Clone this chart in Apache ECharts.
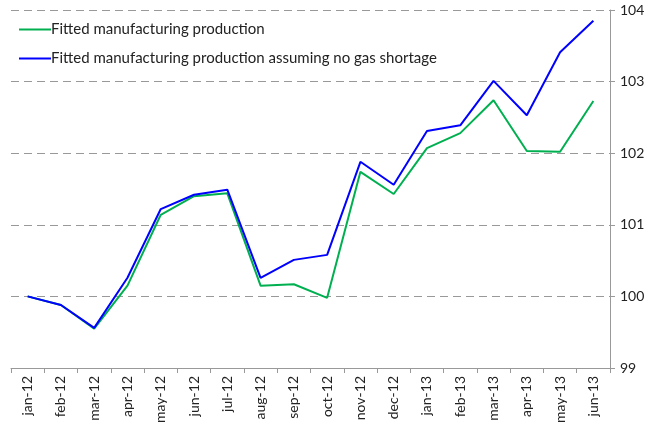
<!DOCTYPE html>
<html>
<head>
<meta charset="utf-8">
<script src="https://cdn.jsdelivr.net/npm/echarts@6/dist/echarts.min.js"></script>
<style>
  html, body { margin: 0; padding: 0; background: #fff; }
  #chart { width: 650px; height: 429px; }
</style>
</head>
<body>
<div id="chart"></div>
<script>
var months = ['jan-12', 'feb-12', 'mar-12', 'apr-12', 'may-12', 'jun-12', 'jul-12', 'aug-12', 'sep-12',
  'oct-12', 'nov-12', 'dec-12', 'jan-13', 'feb-13', 'mar-13', 'apr-13', 'may-13', 'jun-13']
var fitted = [100.0, 99.88, 99.55, 100.15, 101.14, 101.40, 101.44, 100.15, 100.17,
  99.98, 101.74, 101.43, 102.07, 102.28, 102.74, 102.03, 102.02, 102.73]
var noShortage = [100.0, 99.88, 99.56, 100.26, 101.22, 101.42, 101.49, 100.26, 100.51,
  100.58, 101.88, 101.56, 102.31, 102.39, 103.01, 102.53, 103.41, 103.85]

var chart = echarts.init(document.getElementById('chart'))
var font = 'Lato, "Open Sans", sans-serif'

chart.setOption({
  animation: false,
  textStyle: { fontFamily: font },
  grid: { left: 11, right: 40, top: 10, bottom: 61 },
  legend: {
    orient: 'vertical',
    left: 14,
    top: 17,
    itemWidth: 32,
    itemHeight: 10,
    itemGap: 14,
    icon: 'path://M0,4 L32,4 L32,6 L0,6 Z',
    textStyle: { fontFamily: font, fontSize: 15, color: '#222', padding: [0, 0, 0, -5] },
    data: ['Fitted manufacturing production', 'Fitted manufacturing production assuming no gas shortage']
  },
  xAxis: {
    type: 'category',
    data: months,
    boundaryGap: true,
    axisLine: { lineStyle: { color: '#999', width: 1 } },
    axisTick: { show: true, interval: 0, length: 5, lineStyle: { color: '#999' } },
    axisLabel: { interval: 0, rotate: 90, fontSize: 14, color: '#222', margin: 8, fontFamily: font }
  },
  yAxis: {
    type: 'value',
    position: 'right',
    min: 99,
    max: 104,
    interval: 1,
    axisLine: { show: true, lineStyle: { color: '#999', width: 1 } },
    axisTick: { show: true, length: 5, lineStyle: { color: '#999' } },
    axisLabel: { fontSize: 14, color: '#222', margin: 10, fontFamily: font },
    splitLine: { show: true, lineStyle: { color: '#999', type: [8, 5], width: 1.2 } }
  },
  series: [
    {
      name: 'Fitted manufacturing production',
      type: 'line',
      data: fitted,
      symbol: 'none',
      color: '#00B050',
      lineStyle: { color: '#00B050', width: 2 }
    },
    {
      name: 'Fitted manufacturing production assuming no gas shortage',
      type: 'line',
      data: noShortage,
      symbol: 'none',
      color: '#0000FF',
      lineStyle: { color: '#0000FF', width: 2 }
    }
  ]
})
</script>
</body>
</html>
